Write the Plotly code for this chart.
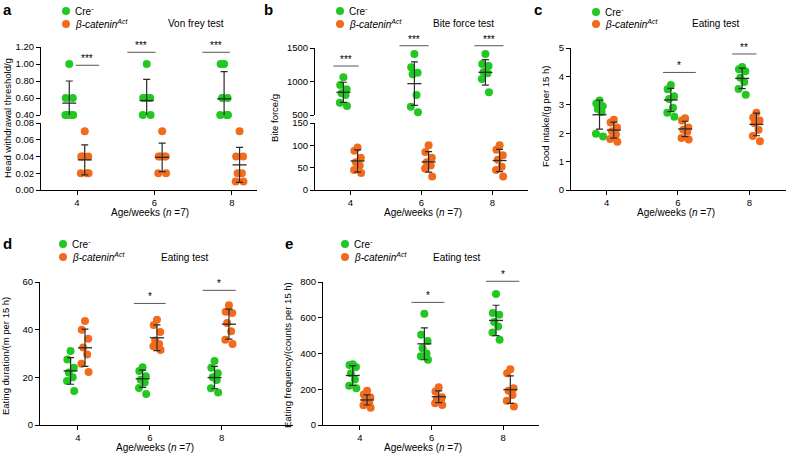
import plotly.graph_objects as go

W, H = 786, 454
GREEN = '#22c722'
ORANGE = '#f26b1d'
BAR = '#2a2a2a'
SIG = '#555555'
FONT = 'Liberation Sans, Arial, Helvetica, sans-serif'

# ---------------- data ----------------
weeks = [4, 6, 8]
week_labels = ['4', '6', '8']

# a: Von Frey (head withdrawal threshold, g)
vf_cre = [[1.0, 0.6, 0.6, 0.4, 0.4, 0.4, 0.4],
          [1.0, 0.6, 0.6, 0.6, 0.6, 0.4, 0.4],
          [1.0, 1.0, 0.6, 0.6, 0.4, 0.4, 0.4]]
vf_cre_mean = [0.54, 0.57, 0.59]
vf_cre_sd = [0.26, 0.25, 0.32]
vf_act = [[0.07, 0.04, 0.04, 0.04, 0.02, 0.02, 0.02],
          [0.07, 0.04, 0.04, 0.04, 0.04, 0.02, 0.02],
          [0.07, 0.04, 0.04, 0.02, 0.02, 0.01, 0.01]]
vf_act_mean = [0.036, 0.039, 0.030]
vf_act_sd = [0.018, 0.017, 0.021]

# b: Bite force (g)
bf_cre = [[1063, 948, 883, 824, 798, 683, 634],
          [1410, 1212, 1132, 1107, 798, 624, 540],
          [1410, 1261, 1231, 1140, 1122, 1037, 839]]
bf_cre_mean = [839, 968, 1137]
bf_cre_sd = [150, 325, 190]
bf_act = [[95, 88, 72, 62, 55, 45, 38],
          [100, 85, 72, 62, 55, 48, 30],
          [100, 90, 78, 68, 52, 45, 30]]
bf_act_mean = [65, 63, 66]
bf_act_sd = [25, 23, 25]

# c: Food intake (g per 15 h)
fi_cre = [[3.15, 3.05, 2.95, 2.85, 2.75, 1.98, 1.88],
          [3.70, 3.55, 3.30, 3.20, 2.90, 2.72, 2.58],
          [4.33, 4.25, 4.18, 3.95, 3.80, 3.56, 3.35]]
fi_cre_mean = [2.65, 3.17, 3.93]
fi_cre_sd = [0.51, 0.41, 0.36]
fi_act = [[2.47, 2.38, 2.20, 2.07, 1.95, 1.80, 1.70],
          [2.53, 2.45, 2.20, 2.12, 2.05, 1.83, 1.78],
          [2.72, 2.55, 2.45, 2.35, 2.12, 1.90, 1.72]]
fi_act_mean = [2.11, 2.15, 2.31]
fi_act_sd = [0.28, 0.27, 0.40]

# d: Eating duration (m per 15 h)
ed_cre = [[31.0, 27.5, 24.0, 22.0, 20.0, 18.5, 14.3],
          [24.2, 22.7, 20.5, 19.0, 17.8, 15.5, 13.0],
          [26.9, 24.0, 21.7, 20.0, 18.9, 15.4, 13.6]]
ed_cre_mean = [22.7, 19.4, 19.9]
ed_cre_sd = [5.6, 3.6, 4.7]
ed_act = [[43.6, 40.0, 36.2, 32.5, 29.6, 25.7, 22.2],
          [44.2, 42.0, 39.0, 35.5, 34.0, 33.0, 31.5],
          [50.2, 47.5, 47.0, 42.8, 39.3, 35.8, 34.0]]
ed_act_mean = [32.4, 36.6, 42.3]
ed_act_sd = [7.8, 5.4, 6.3]

# e: Eating frequency (counts per 15 h)
ef_cre = [[340, 335, 325, 290, 255, 220, 205],
          [622, 505, 470, 430, 400, 385, 365],
          [733, 626, 617, 576, 551, 518, 477]]
ef_cre_mean = [277, 454, 585]
ef_cre_sd = [55, 89, 85]
ef_act = [[192, 170, 155, 140, 122, 110, 97],
          [211, 188, 155, 145, 135, 122, 112],
          [312, 290, 206, 191, 168, 136, 103]]
ef_act_mean = [140, 158, 198]
ef_act_sd = [28, 33, 77]

# ---------------- style constants ----------------
OFF = 0.2
JITTER = [0.0, -0.09, 0.09, -0.05, 0.06, -0.1, 0.1]

fig = go.Figure()


def xd(a, b):
    return [a / W, b / W]


def yd(top, bottom):
    return [1 - bottom / H, 1 - top / H]


def add_group(xa, ya, values, means, sds, color, side, clip_bar):
    xs, ys = [], []
    for w, vals in zip(weeks, values):
        for i, v in enumerate(vals):
            xs.append(w + side * OFF + JITTER[i % len(JITTER)])
            ys.append(v)
    fig.add_trace(go.Scatter(x=xs, y=ys, mode='markers', xaxis=xa, yaxis=ya,
                             marker=dict(size=8, color=color, line=dict(width=0)),
                             cliponaxis=False, showlegend=False, hoverinfo='skip'))
    fig.add_trace(go.Scatter(x=[w + side * OFF for w in weeks], y=means, mode='markers',
                             xaxis=xa, yaxis=ya,
                             marker=dict(symbol='line-ew', size=10, color=BAR,
                                         line=dict(width=1.3, color=BAR)),
                             error_y=dict(type='data', array=sds, visible=True, color=BAR,
                                          thickness=1.2, width=3.5),
                             cliponaxis=clip_bar, showlegend=False, hoverinfo='skip'))


tickfont = dict(size=9.5, color='black', family=FONT)


def xaxis_cfg(domain, rng, anchor):
    return dict(domain=domain, range=rng, anchor=anchor, showline=True, linecolor='black',
                linewidth=1, ticks='outside', ticklen=4, tickwidth=1, tickcolor='black',
                tickvals=weeks, ticktext=week_labels, showgrid=False, zeroline=False,
                tickfont=tickfont, automargin=False)


def yaxis_cfg(domain, rng, anchor, tickvals, fmt):
    return dict(domain=domain, range=rng, anchor=anchor, showline=True, linecolor='black',
                linewidth=1, ticks='outside', ticklen=4, tickwidth=1, tickcolor='black',
                tickvals=tickvals, tickformat=fmt, showgrid=False, zeroline=False,
                tickfont=tickfont, automargin=False)


# panel a (broken axis)
add_group('x', 'y2', vf_cre, vf_cre_mean, vf_cre_sd, GREEN, -1, True)
add_group('x', 'y', vf_act, vf_act_mean, vf_act_sd, ORANGE, 1, False)
# panel b (broken axis)
add_group('x2', 'y4', bf_cre, bf_cre_mean, bf_cre_sd, GREEN, -1, True)
add_group('x2', 'y3', bf_act, bf_act_mean, bf_act_sd, ORANGE, 1, False)
# panel c
add_group('x3', 'y5', fi_cre, fi_cre_mean, fi_cre_sd, GREEN, -1, False)
add_group('x3', 'y5', fi_act, fi_act_mean, fi_act_sd, ORANGE, 1, False)
# panel d
add_group('x4', 'y6', ed_cre, ed_cre_mean, ed_cre_sd, GREEN, -1, False)
add_group('x4', 'y6', ed_act, ed_act_mean, ed_act_sd, ORANGE, 1, False)
# panel e
add_group('x5', 'y7', ef_cre, ef_cre_mean, ef_cre_sd, GREEN, -1, False)
add_group('x5', 'y7', ef_act, ef_act_mean, ef_act_sd, ORANGE, 1, False)

yaxes = {
    'y': (yd(123, 190), [0, 0.08], 'x', [0, 0.02, 0.04, 0.06, 0.08], '.2f'),
    'y2': (yd(47, 115), [0.40, 1.20], 'x', [0.4, 0.6, 0.8, 1.0, 1.2], '.2f'),
    'y3': (yd(123, 190), [0, 150], 'x2', [0, 50, 100, 150], 'd'),
    'y4': (yd(48, 115), [500, 1500], 'x2', [500, 1000, 1500], 'd'),
    'y5': (yd(48, 190), [0, 5], 'x3', [0, 1, 2, 3, 4, 5], 'd'),
    'y6': (yd(282, 425), [0, 60], 'x4', [0, 20, 40, 60], 'd'),
    'y7': (yd(282, 425), [0, 800], 'x5', [0, 200, 400, 600, 800], 'd'),
}
layout = dict(
    width=W, height=H, margin=dict(l=0, r=0, t=0, b=0),
    paper_bgcolor='white', plot_bgcolor='white',
    font=dict(family=FONT, size=10, color='black'),
    showlegend=False,
    xaxis=xaxis_cfg(xd(41, 257), [3.07, 8.65], 'y'),
    xaxis2=xaxis_cfg(xd(315, 528), [3.0, 9.0], 'y3'),
    xaxis3=xaxis_cfg(xd(571, 786), [3.0, 9.03], 'y5'),
    xaxis4=xaxis_cfg(xd(40, 293), [2.95, 9.98], 'y6'),
    xaxis5=xaxis_cfg(xd(323, 539), [2.97, 9.0], 'y7'),
)
for name, (dom, rng, anc, tv, fmt) in yaxes.items():
    key = 'yaxis' if name == 'y' else 'yaxis' + name[1:]
    layout[key] = yaxis_cfg(dom, rng, anc, tv, fmt)
fig.update_layout(**layout)


def to_paper_y(ya, v):
    dom, rng = yaxes[ya][0], yaxes[ya][1]
    return dom[0] + (v - rng[0]) / (rng[1] - rng[0]) * (dom[1] - dom[0])


annotations = []
shapes = []


def ptext(text, x, y, size=10, xanchor='left', angle=0, bold=False):
    annotations.append(dict(text=('<b>%s</b>' % text) if bold else text,
                            x=x / W, y=1 - y / H, xref='paper', yref='paper',
                            xanchor=xanchor, yanchor='middle', showarrow=False,
                            textangle=angle, font=dict(size=size, family=FONT, color='black')))


# panel letters
for lab, x, y in [('a', 1, 9), ('b', 262, 9), ('c', 532, 9), ('d', 1, 243), ('e', 283, 243)]:
    ptext(lab, x, y, size=15, bold=True)

# legends and titles
ACT_TXT = '<i>β-catenin</i><sup><i>Act</i></sup>'
CRE_TXT = 'Cre<sup>-</sup>'
legend_pos = [(66, 11, 24), (340, 11, 24), (596, 12, 24), (63, 244, 257), (345, 244, 257)]
for (lx, y1, y2) in legend_pos:
    for yy, col, txt in [(y1, GREEN, CRE_TXT), (y2, ORANGE, ACT_TXT)]:
        shapes.append(dict(type='circle', xref='paper', yref='paper', xsizemode='pixel',
                           ysizemode='pixel', xanchor=lx / W, yanchor=1 - yy / H,
                           x0=-4, x1=4, y0=-4, y1=4, fillcolor=col, line=dict(width=0)))
        ptext(txt, lx + 7, yy, size=10)

for txt, x, y in [('Von frey test', 166, 24), ('Bite force test', 431, 24),
                  ('Eating test', 690, 24), ('Eating test', 159, 257), ('Eating test', 431, 257)]:
    ptext(txt, x, y, size=10)

# axis titles
XT = 'Age/weeks (<i>n</i> =7)'
for x, y in [(150, 212), (423, 212), (676, 212), (155, 447), (423, 447)]:
    ptext(XT, x, y, size=10, xanchor='center')
for txt, x, y in [('Head withdrawal threshold/g', 7, 118), ('Bite force/g', 274, 118),
                  ('Food intake/(g per 15 h)', 545, 117),
                  ('Eating duration/(m per 15 h)', 5, 356),
                  ('Eating frequency/(counts per 15 h)', 287, 355)]:
    ptext(txt, x, y, size=9.5, xanchor='center', angle=-90)

# significance bars: (xaxis, yaxis, x0, x1, y, label)
sig_bars = [
    ('x', 'y2', 3.97, 4.57, 0.985, '***'),
    ('x', 'y2', 5.30, 6.03, 1.138, '***'),
    ('x', 'y2', 7.24, 7.95, 1.138, '***'),
    ('x2', 'y4', 3.52, 4.23, 1231, '***'),
    ('x2', 'y4', 5.38, 6.20, 1534, '***'),
    ('x2', 'y4', 7.49, 8.31, 1534, '***'),
    ('x3', 'y5', 5.58, 6.50, 4.14, '*'),
    ('x3', 'y5', 7.52, 8.20, 4.79, '**'),
    ('x4', 'y6', 5.56, 6.44, 51.0, '*'),
    ('x4', 'y6', 7.47, 8.39, 56.5, '*'),
    ('x5', 'y7', 5.44, 6.36, 686, '*'),
    ('x5', 'y7', 7.52, 8.45, 804, '*'),
]
for xa, ya, x0, x1, yv, lab in sig_bars:
    py = to_paper_y(ya, yv)
    shapes.append(dict(type='line', xref=xa, yref='paper', x0=x0, x1=x1, y0=py, y1=py,
                       line=dict(color=SIG, width=1)))
    annotations.append(dict(text=lab, x=(x0 + x1) / 2, y=py, xref=xa, yref='paper',
                            xanchor='center', yanchor='bottom', showarrow=False, yshift=-1,
                            font=dict(size=10, family=FONT, color='black')))

fig.update_layout(annotations=annotations, shapes=shapes)
fig.write_html('out.html', config={'displayModeBar': False},
               post_script="document.body.style.margin='0';")
